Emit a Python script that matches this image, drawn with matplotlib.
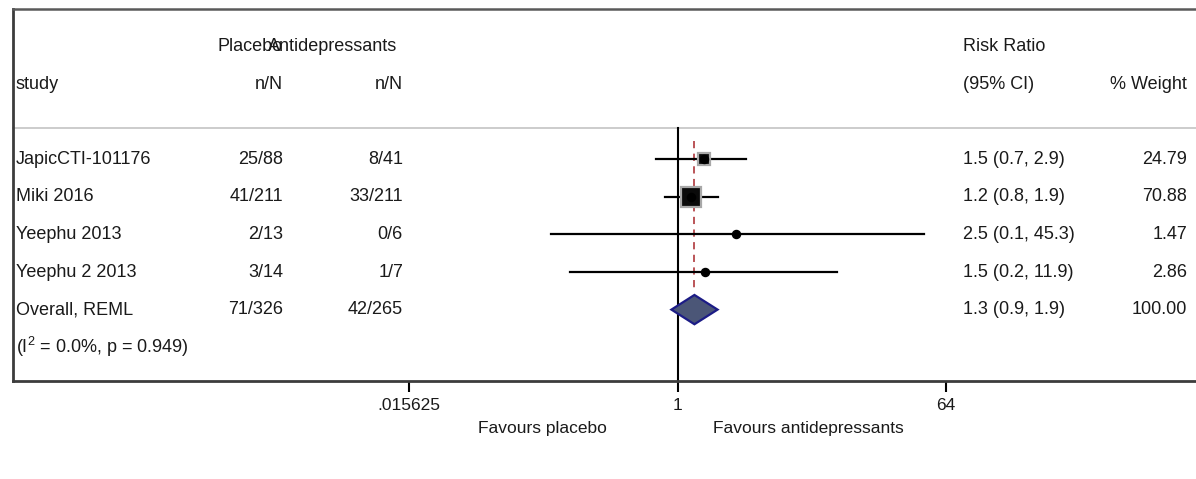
import numpy as np
import matplotlib
matplotlib.use("Agg")
import matplotlib.pyplot as plt
from matplotlib import transforms
from matplotlib.patches import Polygon

plt.rcParams["font.family"] = ["Liberation Sans", "DejaVu Sans"]
plt.rcParams["mathtext.default"] = "regular"

# trial data
studies = ["JapicCTI-101176", "Miki 2016", "Yeephu 2013", "Yeephu 2 2013"]
placebo_n = [25, 41, 2, 3]
placebo_N = [88, 211, 13, 14]
antidep_n = [8, 33, 0, 1]
antidep_N = [41, 211, 6, 7]
rr = [1.5, 1.24, 2.49, 1.52]
rr_lo = [0.72, 0.82, 0.14, 0.19]
rr_hi = [2.9, 1.86, 45.3, 11.9]
weights = [24.79, 70.88, 1.47, 2.86]

# pooled estimate (REML)
overall_label = "Overall, REML"
overall_rr = 1.3
overall_lo = 0.91
overall_hi = 1.86
het_text = "(I$^{2}$ = 0.0%, p = 0.949)"

xticks = [2.0 ** -6, 1, 2.0 ** 6]
xtick_labels = [".015625", "1", "64"]

W, H = 1196, 479
fig = plt.figure(figsize=(W / 100, H / 100), dpi=100)
ax = fig.add_axes([13 / W, (H - 381) / H, (1210 - 13) / W, (381 - 9) / H])

px_per_unit = 44.75
x_left = -6 - (409 - 13) / px_per_unit
x_right = 6 + (1210 - 946) / px_per_unit
ax.set_xscale("log", base=2)
ax.set_xlim(2 ** x_left, 2 ** x_right)
ax.set_ylim(5.9, -4.0)

txt = "#1a1a1a"
fs = 13
fs_axis = 12.5
tf = transforms.blended_transform_factory(fig.transFigure, ax.transData)


def put(xpx, y, s, ha="left", **kw):
    ax.text(xpx / W, y, s, transform=tf, ha=ha, va="center",
            fontsize=fs, color=txt, **kw)


# header
put(283, -3, "Placebo", ha="right")
put(397, -3, "Antidepressants", ha="right")
put(963, -3, "Risk Ratio")
put(16, -2, "study")
put(283, -2, "n/N", ha="right")
put(403, -2, "n/N", ha="right")
put(963, -2, "(95% CI)")
put(1187, -2, "% Weight", ha="right")
ax.plot([0, 1], [-0.82, -0.82], transform=transforms.blended_transform_factory(ax.transAxes, ax.transData),
        color="#c8c8c8", lw=1.3, clip_on=False)

# studies
box_scale = 13.7 / np.sqrt(max(weights))
for i, name in enumerate(studies):
    put(16, i, name)
    put(283, i, f"{placebo_n[i]}/{placebo_N[i]}", ha="right")
    put(403, i, f"{antidep_n[i]}/{antidep_N[i]}", ha="right")
    put(963, i, f"{rr[i]:.1f} ({rr_lo[i]:.1f}, {rr_hi[i]:.1f})")
    put(1187, i, f"{weights[i]:.2f}", ha="right")
    ax.plot([rr_lo[i], rr_hi[i]], [i, i], color="black", lw=1.6, zorder=3)
    ax.plot(rr[i], i, marker="s", markersize=box_scale * np.sqrt(weights[i]),
            markerfacecolor="#0a0a0a", markeredgecolor="#a8a8a8",
            markeredgewidth=1.6, zorder=4)
    ax.plot(rr[i], i, marker="o", markersize=5.8, color="black", zorder=5)

# overall row
k = len(studies)
put(16, k, overall_label)
put(283, k, f"{sum(placebo_n)}/{sum(placebo_N)}", ha="right")
put(403, k, f"{sum(antidep_n)}/{sum(antidep_N)}", ha="right")
put(963, k, f"{overall_rr:.1f} ({overall_lo:.1f}, {overall_hi:.1f})")
put(1187, k, f"{sum(weights):.2f}", ha="right")
put(16, k + 1, het_text)

half = 0.39
diamond = Polygon([(overall_lo, k), (overall_rr, k - half), (overall_hi, k), (overall_rr, k + half)],
                  closed=True, facecolor="#4b5677", edgecolor="#1c1c86", lw=1.6, zorder=4)
ax.add_patch(diamond)

# reference lines
ax.plot([1, 1], [-0.82, 5.9], color="black", lw=1.5, zorder=2, clip_on=False)
ax.plot([overall_rr, overall_rr], [-0.5, k - 0.5], color="#b5474b", lw=1.3,
        ls=(0, (4, 3)), zorder=2)

# frame
for side in ["left", "bottom"]:
    ax.spines[side].set_color("#3c3c3c")
    ax.spines[side].set_linewidth(2.0)
ax.spines["top"].set_color("#5a5a5a")
ax.spines["top"].set_linewidth(1.8)
ax.spines["right"].set_visible(False)

ax.set_yticks([])
ax.set_xticks(xticks)
ax.set_xticklabels(xtick_labels)
ax.xaxis.set_minor_locator(matplotlib.ticker.NullLocator())
ax.tick_params(axis="x", direction="out", length=8, width=1.5, color="black",
               pad=4, labelsize=fs_axis, labelcolor=txt)

# direction labels
fig.text(607 / W, 1 - 428 / H, "Favours placebo", ha="right", va="center",
         fontsize=fs_axis, color=txt)
fig.text(713 / W, 1 - 428 / H, "Favours antidepressants", ha="left", va="center",
         fontsize=fs_axis, color=txt)

fig.savefig("out.png", dpi=100, facecolor="white")
